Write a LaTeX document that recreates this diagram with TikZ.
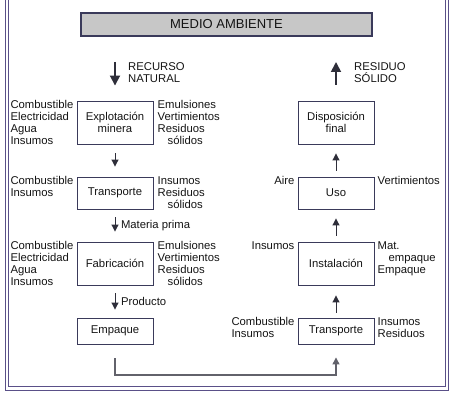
\documentclass[tikz,border=0pt]{standalone}
\usepackage{fontspec}
\setmainfont{Liberation Sans}
\usetikzlibrary{arrows.meta,positioning}
\definecolor{framecol}{HTML}{5A5088}
\definecolor{boxcol}{HTML}{3A3A5A}
\definecolor{linecol}{HTML}{2E2E3A}

\begin{document}
\begin{tikzpicture}[x=1pt,y=-1pt,line join=miter,
  every node/.style={inner sep=0pt,font=\fontsize{11.3}{12}\selectfont,text=black!92},
  box/.style={draw=boxcol,line width=0.9pt,minimum width=76pt,align=center},
  lbl/.style={align=left},
  arr/.style={draw=linecol,line width=1pt,-{Triangle[width=7pt,length=7pt]}},
  bigarr/.style={draw=linecol,line width=1.8pt,-{Triangle[width=10pt,length=10pt]}}]
  \useasboundingbox (0,0) rectangle (458,401);
  \def\lx{115}
  \def\rx{336}
  % double frame
  \draw[framecol,line width=1pt] (5,-10) rectangle (448,390);
  \draw[framecol,line width=1pt] (8,-10) rectangle (445,386);
  % title
  \node[draw=boxcol,line width=1.2pt,fill=black!22,minimum width=291pt,minimum height=23pt,
    font=\fontsize{13}{14}\selectfont] (medio) at (226.5,24.5) {MEDIO AMBIENTE};
  % left column
  \node[box,minimum height=43pt] (expl) at (\lx,122.5) {Explotación\\minera};
  \node[box,minimum height=32pt] (trA) at (\lx,193) {Transporte};
  \node[box,minimum height=43pt] (fab) at (\lx,263.5) {Fabricación};
  \node[box,minimum height=26pt] (emp) at (\lx,331) {Empaque};
  % right column
  \node[box,minimum height=43pt] (disp) at (\rx,122.5) {Disposición\\final};
  \node[box,minimum height=32pt] (uso) at (\rx,193) {Uso};
  \node[box,minimum height=43pt] (inst) at (\rx,263.5) {Instalación};
  \node[box,minimum height=26pt] (trB) at (\rx,331) {Transporte};
  % inputs and outputs
  \node[lbl,anchor=north east] (explin) at ([xshift=-3pt]expl.north west) {Combustible\\Electricidad\\Agua\\Insumos};
  \node[lbl,anchor=north west] (explout) at ([xshift=4pt]expl.north east) {Emulsiones\\Vertimientos\\Residuos\\\hspace*{10pt}sólidos};
  \node[lbl,anchor=north east] (trAin) at ([xshift=-3pt]trA.north west) {Combustible\\Insumos};
  \node[lbl,anchor=north west] (trAout) at ([xshift=4pt]trA.north east) {Insumos\\Residuos\\\hspace*{10pt}sólidos};
  \node[lbl,anchor=north east] (fabin) at ([xshift=-3pt]fab.north west) {Combustible\\Electricidad\\Agua\\Insumos};
  \node[lbl,anchor=north west] (fabout) at ([xshift=4pt]fab.north east) {Emulsiones\\Vertimientos\\Residuos\\\hspace*{10pt}sólidos};
  \node[lbl,anchor=north east] (usoin) at ([xshift=-3pt]uso.north west) {Aire};
  \node[lbl,anchor=north west] (usoout) at ([xshift=3pt]uso.north east) {Vertimientos};
  \node[lbl,anchor=north east] (instin) at ([xshift=-3pt]inst.north west) {Insumos};
  \node[lbl,anchor=north west] (instout) at ([xshift=3pt]inst.north east) {Mat.\\\hspace*{11pt}empaque\\Empaque};
  \node[lbl,anchor=north east] (trBin) at ([xshift=-3pt]trB.north west) {Combustible\\Insumos};
  \node[lbl,anchor=north west] (trBout) at ([xshift=3pt]trB.north east) {Insumos\\Residuos};
  % resource in, waste out
  \coordinate (rn) at (\lx,62);
  \coordinate (rs) at (\rx,62);
  \draw[bigarr,shorten >=15pt] (rn) -- (expl.north);
  \draw[bigarr,shorten <=16pt] (disp.north) -- (rs);
  \node[lbl,anchor=west] (rntext) at (128,72.5) {RECURSO\\NATURAL};
  \node[lbl,anchor=west] (rstext) at (354,72.5) {RESIDUO\\SÓLIDO};
  % flow
  \draw[arr,shorten <=9pt,shorten >=10pt] (expl) -- (trA);
  \draw[arr,shorten <=8pt,shorten >=10pt] (trA) -- (fab) node[midway,right=5.5pt] (mp) {Materia prima};
  \draw[arr,shorten <=8pt,shorten >=8pt] (fab) -- (emp) node[midway,right=5.5pt] (prod) {Producto};
  \draw[arr,draw=linecol!75,line width=1.2pt] ([yshift=-14pt]emp.south) |- (\lx,375) -| ([yshift=-13pt]trB.south);
  \draw[arr,shorten <=5pt,shorten >=10pt] (trB) -- (inst);
  \draw[arr,shorten <=6pt,shorten >=9pt] (inst) -- (uso);
  \draw[arr,shorten <=6pt,shorten >=9pt] (uso) -- (disp);
\end{tikzpicture}
\end{document}
